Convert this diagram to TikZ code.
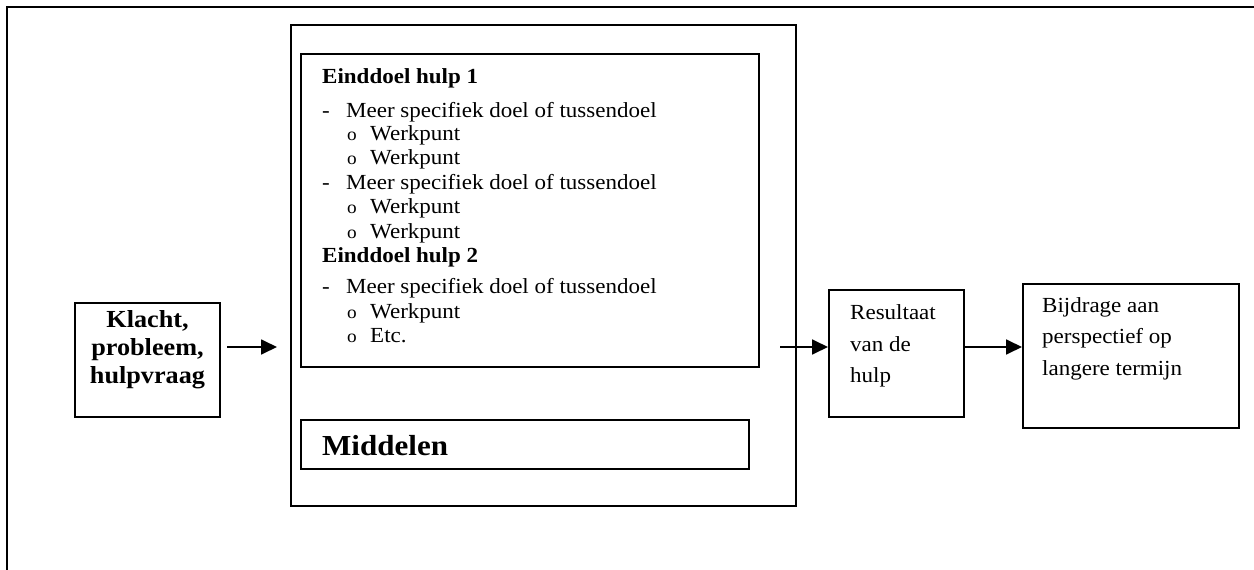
\documentclass[tikz,border=0pt]{standalone}
\usepackage{fontspec}
\setmainfont{Liberation Serif}[FakeStretch=1.07]
\usetikzlibrary{arrows.meta}
\newcommand\myfs[1]{\fontsize{#1}{#1}\selectfont}
\begin{document}
\begin{tikzpicture}[x=1pt,y=-1pt,
  box/.style={draw, line width=1.6pt, inner sep=0pt, anchor=north west},
  conn/.style={line width=1.8pt, -{Triangle[length=16pt,width=15pt]}},
  txt/.style={anchor=base west, inner sep=0pt, font=\myfs{21.5}},
  btxt/.style={anchor=base west, inner sep=0pt, font=\myfs{21.5}\bfseries},
  bul/.style={anchor=base west, inner sep=0pt, font=\myfs{18}},
  ctxt/.style={anchor=base, inner sep=0pt, font=\myfs{24.5}\bfseries}]
\useasboundingbox (0,0) rectangle (1254,570);
\draw[line width=1.6pt] (1254,7) -- (7,7) -- (7,570);
% boxes
\node[box, minimum width=505pt, minimum height=481pt] (mid) at (290,24) {};
\node[box, minimum width=458pt, minimum height=313pt] (goal) at (300,53) {};
\node[box, minimum width=448pt, minimum height=49pt] (mdl) at (300,419) {};
\node[box, minimum width=145pt, minimum height=114pt] (kl) at (74,302) {};
\node[box, minimum width=135pt, minimum height=127pt] (res) at (828,289) {};
\node[box, minimum width=216pt, minimum height=144pt] (bij) at (1022,283) {};
% Klacht text
\node[ctxt] (k1) at (147.5,327) {Klacht,};
\node[ctxt] (k2) at (147.5,355) {probleem,};
\node[ctxt] (k3) at (147.5,383) {hulpvraag};
% goal text
\node[btxt] (h1) at (322,83) {Einddoel hulp 1};
\node[txt] (d1) at (322,117) {-};
\node[txt] (m1) at (346,117) {Meer specifiek doel of tussendoel};
\node[bul] (o1) at (347,140) {o};
\node[txt] (w1) at (370,140) {Werkpunt};
\node[bul] (o2) at (347,164) {o};
\node[txt] (w2) at (370,164) {Werkpunt};
\node[txt] (d2) at (322,189) {-};
\node[txt] (m2) at (346,189) {Meer specifiek doel of tussendoel};
\node[bul] (o3) at (347,213) {o};
\node[txt] (w3) at (370,213) {Werkpunt};
\node[bul] (o4) at (347,238) {o};
\node[txt] (w4) at (370,238) {Werkpunt};
\node[btxt] (h2) at (322,262) {Einddoel hulp 2};
\node[txt] (d3) at (322,293) {-};
\node[txt] (m3) at (346,293) {Meer specifiek doel of tussendoel};
\node[bul] (o5) at (347,318) {o};
\node[txt] (w5) at (370,318) {Werkpunt};
\node[bul] (o6) at (347,342) {o};
\node[txt] (w6) at (370,342) {Etc.};
% Middelen
\node[anchor=base west, inner sep=0pt, font=\myfs{29}\bfseries] (mt) at (322,455) {Middelen};
% right texts
\node[txt] (r1) at (850,319) {Resultaat};
\node[txt] (r2) at (850,351) {van de};
\node[txt] (r3) at (850,382) {hulp};
\node[txt] (b1) at (1042,312) {Bijdrage aan};
\node[txt] (b2) at (1042,343) {perspectief op};
\node[txt] (b3) at (1042,375) {langere termijn};
% connectors
\coordinate (a1s) at (227,347);
\coordinate (a1e) at (277,347);
\coordinate (a2s) at (780,347);
\draw[conn] (a1s) -- (a1e);
\draw[conn] (a2s) -- (res.west |- a2s);
\draw[conn] (res.east |- a2s) -- (bij.west |- a2s);
\end{tikzpicture}
\end{document}
